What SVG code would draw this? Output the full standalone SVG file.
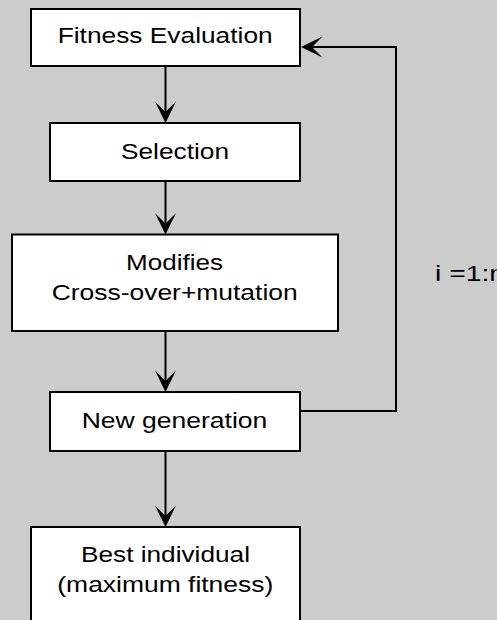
<svg xmlns="http://www.w3.org/2000/svg" width="497" height="620" viewBox="0 0 497 620">
  <style>
    .box { fill: #ffffff; stroke: #000000; stroke-width: 2; }
    .lbl { font-family: "Liberation Sans", Arial, sans-serif; font-size: 22.5px; fill: #000000; }
    .conn { fill: none; stroke: #000000; stroke-width: 2; }
  </style>
  <defs>
    <marker id="arrow" markerUnits="userSpaceOnUse" viewBox="-23 -12 24 24" markerWidth="24" markerHeight="24" refX="-11" refY="0" orient="auto">
      <path d="M0,0 L-21.5,-10.5 L-11,0 L-21.5,10.5 Z" fill="#000000"/>
    </marker>
  </defs>
  <rect x="0" y="0" width="497" height="620" fill="#cccccc"/>

  <g id="connectors">
    <line class="conn" x1="165.5" y1="66" x2="165.5" y2="112" marker-end="url(#arrow)"/>
    <line class="conn" x1="165.5" y1="181" x2="165.5" y2="223.5" marker-end="url(#arrow)"/>
    <line class="conn" x1="165.5" y1="331" x2="165.5" y2="381" marker-end="url(#arrow)"/>
    <line class="conn" x1="165.5" y1="451" x2="165.5" y2="516" marker-end="url(#arrow)"/>
    <path class="conn" d="M300,411 H396 V47 H312" marker-end="url(#arrow)"/>
  </g>

  <g id="fitness">
    <rect class="box" x="31" y="9" width="269" height="57"/>
    <text class="lbl" x="57.7" y="43" textLength="215" lengthAdjust="spacingAndGlyphs">Fitness Evaluation</text>
  </g>
  <g id="selection">
    <rect class="box" x="50" y="123" width="250" height="58"/>
    <text class="lbl" x="121" y="159" textLength="108" lengthAdjust="spacingAndGlyphs">Selection</text>
  </g>
  <g id="modifies">
    <rect class="box" x="12" y="234.5" width="326" height="96.5"/>
    <text class="lbl" x="126" y="270" textLength="97" lengthAdjust="spacingAndGlyphs">Modifies</text>
    <text class="lbl" x="51.7" y="300" textLength="246" lengthAdjust="spacingAndGlyphs">Cross-over+mutation</text>
  </g>
  <g id="newgen">
    <rect class="box" x="50" y="392" width="250" height="59"/>
    <text class="lbl" x="81.7" y="428.3" textLength="185.6" lengthAdjust="spacingAndGlyphs">New generation</text>
  </g>
  <g id="best">
    <rect class="box" x="31" y="527" width="269" height="110"/>
    <text class="lbl" x="81" y="562.3" textLength="169" lengthAdjust="spacingAndGlyphs">Best individual</text>
    <text class="lbl" x="57.3" y="592.3" textLength="216" lengthAdjust="spacingAndGlyphs">(maximum fitness)</text>
  </g>
  <g id="loop-label">
    <text class="lbl" x="435" y="280.5" textLength="70" lengthAdjust="spacingAndGlyphs">i =1:n</text>
  </g>
</svg>
